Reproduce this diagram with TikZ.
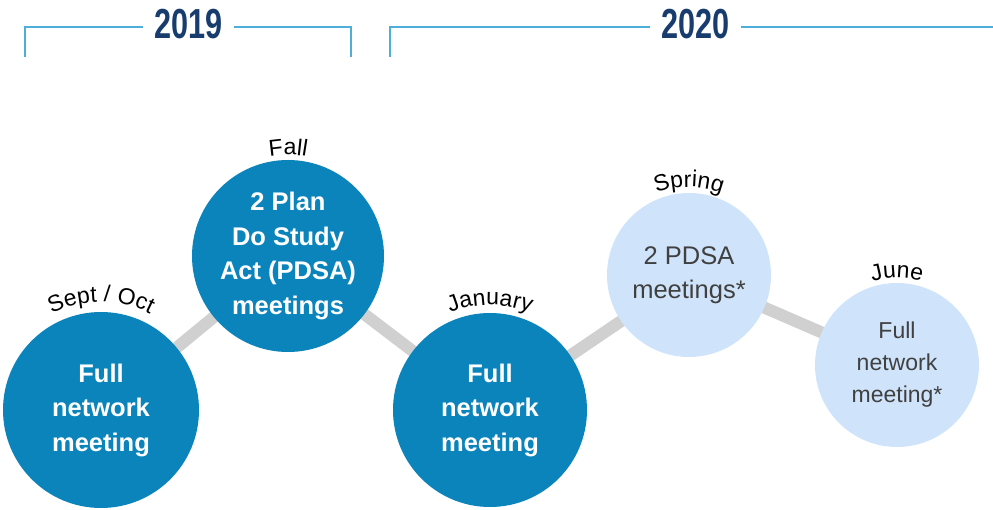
\documentclass[tikz,border=0pt]{standalone}
\usepackage{fontspec}
\setmainfont{Liberation Sans}
\usetikzlibrary{backgrounds,decorations.text}
\definecolor{darkc}{RGB}{11,132,188}
\definecolor{lightc}{RGB}{207,228,250}
\definecolor{ltext}{RGB}{64,64,64}
\definecolor{navy}{RGB}{24,60,110}
\definecolor{brk}{RGB}{77,174,216}
\definecolor{conn}{RGB}{208,208,208}
\tikzset{
  darkcirc/.style={circle, fill=darkc, text=white, inner sep=0pt, align=center,
    font=\fontsize{25.5}{34.5}\selectfont\bfseries},
  lightcirc/.style={circle, fill=lightc, text=ltext, inner sep=0pt, align=center,
    font=\fontsize{25.5}{34}\selectfont},
  yeartext/.style={text=navy, inner sep=0pt, font=\fontsize{42}{42}\selectfont\bfseries},
  bracket/.style={draw=brk, line width=2.5pt},
  connector/.style={draw=conn, line width=12pt},
}
\newcommand{\lblfont}{\fontsize{23}{23}\selectfont}
\begin{document}
\begin{tikzpicture}[x=1pt,y=1pt]
\useasboundingbox (0,0) rectangle (993,509);
% years
\node[yeartext] (y19) at (188.5,485) {\scalebox{0.73}[1]{2019}};
\node[yeartext] (y20) at (695.5,485) {\scalebox{0.73}[1]{2020}};
\coordinate (b19l) at (25,452);
\coordinate (b19r) at (351,452);
\coordinate (b20l) at (390,452);
\coordinate (b20r) at (993,482);
\draw[bracket] (b19l) |- ([xshift=-11pt,yshift=-3pt]y19.west);
\draw[bracket] (b19r) |- ([xshift=11pt,yshift=-3pt]y19.east);
\draw[bracket] (b20l) |- ([xshift=-11pt,yshift=-3pt]y20.west);
\draw[bracket] ([xshift=11pt,yshift=-3pt]y20.east) -- (b20r);
% circles
\node[darkcirc, minimum size=196pt] (c1) at (101,99) {Full\\network\\meeting};
\node[darkcirc, minimum size=192pt] (c2) at (288,253) {2 Plan\\Do Study\\Act (PDSA)\\meetings};
\node[darkcirc, minimum size=194pt] (c3) at (490,99) {Full\\network\\meeting};
\node[lightcirc, minimum size=164pt] (c4) at (689,234) {2 PDSA\\meetings*};
\node[lightcirc, minimum size=164pt, font=\fontsize{23}{32}\selectfont] (c5) at (897,144) {Full\\network\\meeting*};
\begin{pgfonlayer}{background}
\draw[connector] (c1.center) -- (c2.center);
\draw[connector] (c2.center) -- (c3.center);
\draw[connector] (c3.center) -- (c4.center);
\draw[connector] (c4.center) -- (c5.center);
\end{pgfonlayer}
% curved labels
\path[decorate, decoration={text along path, text align=center, text={|\lblfont|Sept / Oct}}]
  (c1.center) ++(155:108) arc[start angle=155, end angle=25, radius=108];
\path[decorate, decoration={text along path, text align=center, text={|\lblfont|Fall}}]
  (c2.center) ++(120:101) arc[start angle=120, end angle=60, radius=101];
\path[decorate, decoration={text along path, text align=center, text={|\lblfont|January}}]
  (c3.center) ++(150:105) arc[start angle=150, end angle=30, radius=105];
\path[decorate, decoration={text along path, text align=center, text={|\lblfont|Spring}}]
  (c4.center) ++(145:88) arc[start angle=145, end angle=35, radius=88];
\path[decorate, decoration={text along path, text align=center, text={|\lblfont|June}}]
  (c5.center) ++(140:87) arc[start angle=140, end angle=40, radius=87];
\end{tikzpicture}
\end{document}
